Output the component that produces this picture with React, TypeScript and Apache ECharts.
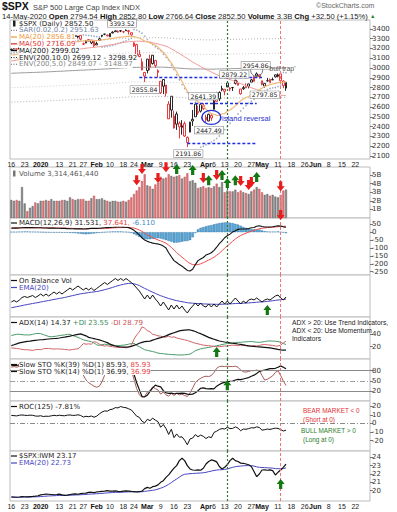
import React, { useEffect, useRef } from "react";
import * as echarts from "echarts";

// ---------- DATA ----------
const prevClose = 3168.8;
const opens = [3183.63,3195.40,3195.21,3192.32,3223.33,3226.05,3225.45,3227.20,3247.23,3240.09,3215.18,
3244.67,3226.36,3217.55,3241.86,3238.59,3266.03,3281.81,3271.13,3285.35,3282.27,3302.97,3323.66,3321.03,3330.02,3315.77,3333.10,3247.16,3255.35,3289.46,3256.45,3282.33,
3235.66,3280.61,3324.91,3344.92,3335.54,3318.28,3365.87,3370.50,3365.90,3378.08,3369.04,3380.39,3380.45,3360.50,3257.61,3238.94,3139.90,3062.54,2916.90,
2974.28,3096.46,3045.75,3075.70,2954.20,2863.89,2813.48,2825.60,2630.86,2569.99,2508.59,2425.66,2436.50,2393.48,2431.94,2290.71,2344.44,2457.77,2501.29,2555.87,2558.98,2614.69,
2498.08,2458.54,2514.92,2578.28,2738.65,2685.00,2776.99,2782.46,2805.10,2795.64,2799.34,2842.43,2845.62,2784.81,2787.89,2810.42,2812.64,2854.65,2909.96,2918.46,2930.91,
2869.09,2815.01,2868.88,2883.14,2878.26,2908.83,2915.46,2939.50,2865.86,2794.54];
const highs = [3197.71,3198.22,3198.48,3205.48,3225.65,3227.78,3226.43,3240.08,3247.93,3240.92,3231.72,
3258.14,3246.15,3246.84,3244.91,3267.07,3275.58,3282.99,3288.13,3294.25,3298.66,3317.11,3329.88,3329.79,3337.77,3326.88,3333.18,3258.85,3285.78,3293.47,3285.91,3282.33,
3268.44,3306.92,3337.58,3347.96,3341.42,3352.26,3375.63,3381.47,3385.09,3380.69,3375.01,3393.52,3389.15,3360.76,3259.81,3246.99,3182.51,3097.07,2959.72,
3090.96,3136.72,3130.97,3083.04,2985.93,2863.89,2882.59,2825.60,2660.95,2711.33,2562.98,2553.93,2453.57,2466.97,2453.01,2300.73,2449.71,2571.42,2637.01,2615.91,2631.80,2641.39,
2522.75,2533.22,2538.18,2676.85,2756.89,2760.75,2818.57,2782.46,2851.85,2801.88,2806.51,2879.22,2868.98,2785.54,2815.10,2844.90,2842.71,2887.72,2921.15,2954.86,2930.91,
2869.09,2844.24,2898.23,2891.11,2901.92,2932.16,2944.25,2945.82,2874.14,2852.80];
const lows = [3183.63,3191.03,3191.14,3192.32,3216.03,3222.30,3220.51,3227.20,3234.37,3216.57,3212.03,
3235.53,3222.34,3214.64,3232.43,3236.67,3263.67,3260.86,3268.43,3277.19,3280.69,3302.82,3318.86,3316.61,3320.04,3301.87,3281.53,3234.50,3253.22,3271.89,3242.80,3214.68,
3235.66,3280.61,3313.75,3334.39,3322.12,3317.77,3352.72,3369.72,3360.52,3366.15,3355.61,3378.83,3341.02,3328.45,3214.65,3118.77,3108.99,2977.39,2855.84,
2945.19,2976.63,3034.38,2999.83,2901.54,2734.43,2734.00,2707.22,2478.86,2492.37,2380.94,2367.04,2280.52,2319.78,2295.56,2191.86,2344.44,2407.53,2500.72,2520.02,2545.28,2571.15,
2447.49,2455.79,2459.96,2574.57,2657.67,2663.30,2762.36,2721.17,2805.10,2761.54,2764.32,2830.88,2820.43,2727.10,2775.95,2794.26,2791.76,2852.89,2860.71,2912.16,2892.47,
2821.61,2797.85,2863.55,2847.65,2876.48,2902.88,2903.44,2869.59,2793.15,2766.64];
const closes = [3191.45,3192.52,3191.14,3205.37,3221.22,3224.01,3223.38,3239.91,3240.02,3221.29,3230.78,
3257.85,3234.85,3246.28,3237.18,3253.05,3274.70,3265.35,3288.13,3283.15,3289.29,3316.81,3329.62,3320.79,3321.75,3325.54,3295.47,3243.63,3276.24,3273.40,3283.66,3225.52,
3248.92,3297.59,3334.69,3345.78,3327.71,3352.09,3357.75,3379.45,3373.94,3380.16,3370.29,3386.15,3373.23,3337.75,3225.89,3128.21,3116.39,2978.76,2954.22,
3090.23,3003.37,3130.12,3023.94,2972.37,2746.56,2882.23,2741.38,2480.64,2711.02,2386.13,2529.19,2398.10,2409.39,2304.92,2237.40,2447.33,2475.56,2630.07,2541.47,2626.65,2584.59,
2470.50,2526.90,2488.65,2663.68,2659.41,2749.98,2789.82,2761.63,2846.06,2783.36,2799.55,2874.56,2823.16,2736.56,2799.31,2797.80,2836.74,2878.48,2863.39,2939.51,2912.43,
2830.71,2842.74,2868.44,2848.42,2881.19,2929.80,2930.32,2870.12,2820.00,2852.50];
const ma20 = [3133,3136,3140,3145,3151,3156,3161,3166,3170,3174,3180,
3188,3194,3201,3205,3211,3218,3224,3230,3236,3241,3247,3254,3260,3265,3270,3274,3274,3276,3278,3281,3279,
3280,3283,3287,3292,3295,3299,3303,3307,3312,3315,3317,3320,3323,3323,3320,3314,3306,3291,3275,
3268,3256,3247,3232,3213,3184,3160,3130,3085,3052,3002,2960,2910,2862,2811,2761,2727,2695,2678,2657,2634,2613,
2580,2555,2531,2527,2516,2516,2532,2534,2557,2570,2590,2613,2639,2664,2682,2698,2708,2725,2737,2755,2777,
2792,2810,2820,2829,2836,2843,2851,2852,2854,2856.81];
const ma50 = [3070,3075,3080,3085,3090,3095,3100,3105,3110,3115,3120,
3124,3129,3134,3139,3144,3149,3153,3158,3163,3168,3172,3177,3182,3186,3190,3194,3198,3202,3205,3208,3211,
3214,3217,3221,3226,3230,3235,3239,3244,3250,3255,3260,3265,3268,3270,3272,3273,3274,3272,3270,
3267,3264,3258,3252,3245,3238,3231,3223,3210,3196,3181,3165,3149,3131,3113,3096,3078,3060,3045,3030,3015,3000,
2986,2972,2958,2945,2932,2919,2910,2900,2891,2881,2872,2861,2850,2840,2829,2818,2808,2798,2788,2779,2769,
2761,2753,2746,2738,2731,2728,2725,2722,2719,2716.09];
const ma200 = [2946,2947,2948,2949,2950,2951,2952,2953,2954,2955,2956,
2957,2958,2959,2961,2962,2963,2965,2966,2967,2969,2970,
2972,2973,2974,2976,2977,2978,2979,2981,2982,2983,
2985,2986,2988,2989,2991,2992,2994,2996,2997,2999,
3001,3002,3004,3005,3006,3006,3007,3007,3007,3008,
3008,3009,3009,3009,3008,3008,3007,3005,3004,3002,
3000,2998,2996,2994,2992,2991,2990,2990,2990,2990,
2989,2988,2988,2988,2988,2989,2990,2990,2991,2992,
2992,2993,2994,2994,2994,2995,2995,2996,2997,2997,
2998,2998,2998,2998,2998,2999,2999,2999,2999,2999,2999,2999.02];
const sar = [3150,3155,3160,3165,3170,3178,3185,3192,3198,3204,3209,3213,3217,3220,3222,3224,3228,3232,3237,3242,3247,3254,3261,3268,3276,3284,3292,
3338,3335,3332,3329,3324,3320,3316,
3214,3217,3221,3225,3232,3240,3250,3259,3268,3277,3290,3302,
3393,3386,3373,3355,3325,3290,3262,3238,3216,3196,3178,3140,3108,3080,3028,2985,2930,2880,2830,2790,2750,2712,2680,2650,2637,
2191,2200,2215,2230,2245,2260,2280,2305,2335,2370,2400,2435,2465,2495,2530,2560,2590,2615,2640,2660,2680,2700,2725,2745,2762,2777,2790,2797,2800,2810,2825,
2954.86,2951.63];
const volumeB = [2.1,2.0,2.1,2.0,3.6,1.7,0.8,1.2,1.4,1.8,1.7,
2.0,2.0,2.1,2.0,2.2,2.0,2.0,2.0,2.1,2.1,2.0,
2.4,2.2,2.1,2.2,2.2,2.2,2.0,2.0,2.3,2.6,
2.2,2.2,2.3,2.1,2.0,1.9,2.0,2.0,1.9,1.9,
2.0,1.9,2.1,2.4,2.8,3.2,3.6,4.3,5.1,3.8,
3.7,3.4,3.9,4.1,4.8,4.6,4.7,5.1,4.9,4.8,
4.9,5.0,4.6,4.8,5.2,4.3,4.4,4.1,3.5,3.6,
3.7,3.5,3.6,3.5,3.7,4.0,3.6,4.2,3.0,3.2,
3.1,3.1,3.3,3.0,3.2,3.0,2.9,2.8,3.1,3.3,
3.6,3.4,3.0,2.7,2.8,2.6,2.7,2.5,2.4,2.7,3.2,3.31];
const macd = [25,26,26,27,28,29,29,29,29,28,28,
28,27,27,26,26,26,25,25,24,24,23,
22,22,21,21,21,20,21,23,25,24,
24,25,27,28,29,30,31,32,33,33,
32,31,29,22,12,-2,-17,-35,-50,-58,
-64,-69,-72,-74,-80,-88,-100,-130,-155,-180,
-192,-205,-215,-228,-242,-246,-235,-205,-180,-170,
-160,-145,-138,-130,-115,-95,-72,-55,-35,-22,
-12,2,10,18,20,20,21,23,28,30,
38,41,36,33,33,33,35,38,41,39,34,31.531];
const macdSignal = [28,28,28,28,28,28,28,28,28,28,28,
28,28,28,27,27,27,27,26,26,26,25,
25,24,24,23,23,22,22,22,23,23,
23,23,24,25,25,26,27,28,29,29,
30,30,30,29,26,21,14,5,-6,-17,
-26,-35,-42,-49,-55,-62,-70,-82,-96,-113,
-129,-144,-158,-172,-186,-198,-205,-207,-205,-200,
-193,-185,-176,-168,-158,-146,-133,-118,-101,-87,
-72,-57,-43,-31,-21,-13,-6,0,6,11,
17,22,25,27,29,30,31,33,35,37,37,37.641];
const macdHist = [2,2,2,3,3,4,4,3,3,2,2,
1,0,-1,-1,-2,-2,-2,-2,-3,-3,-3,
-4,-5,-6,-8,-10,-12,-13,-12,-10,-8,
-6,-4,-2,0,2,3,4,4,4,4,
3,2,0,-5,-12,-20,-30,-38,-44,-45,
-44,-42,-40,-38,-40,-45,-50,-55,-60,-66,
-66,-64,-60,-57,-56,-50,-32,-5,18,28,
33,38,42,45,50,54,58,60,62,62,
60,58,53,48,41,33,27,22,20,18,
18,17,11,6,4,3,3,3,4,1,-2,-6.11];
const obv = [25,26.5,25,27,29.5,30.5,29.5,30.5,31.5,29.5,31,
33,31,33,31,33,35,33,35,33,35,37,
39,37,39,41,39,37,39,37,39,36.5,
38.5,40.5,42.5,44.5,42.5,44.5,46.5,48.5,46.5,48.5,
46.5,48.5,46.5,44.5,42,39,36,32,28,32,
28,32,28,25,21,25,21,17,22,18,
22,18,21,17,14,18,21,24,21,24,
21,20,23,20,23,20,23,26,23,26,
23,26,29,26,23,26,24,27,28,27,
29,27,25,27,28,27,29,31,32,29,27,30];
const obvEma = [19.3,19.8,20.3,20.8,21.4,22,22.5,23,23.5,24,24.4,
25,25.5,26,26.5,27,27.6,28,28.6,29,29.5,30.2,
30.8,31.4,32,32.6,33.2,33.6,34,34.4,34.8,35.1,
35.5,36,36.6,37.3,38,38.8,39.6,40.5,41.3,42,
42.7,43.2,43.6,43.6,43.2,42.5,41.5,40,38.6,37.4,
36,34.8,33.6,32.4,31.3,30.4,29.4,28.5,27.8,27,
26.4,25.8,25.3,24.8,24.3,24,23.8,23.6,23.4,23.3,
23.1,23,22.9,22.8,22.8,22.7,22.7,22.8,22.8,23,
23.1,23.3,23.5,23.6,23.6,23.8,23.9,24.1,24.3,24.5,
24.8,25,25.1,25.3,25.6,25.9,26.2,26.6,27,27.3,27.6,28];
const adx = [21.6,23,24.5,26,27,27.8,28.5,29,29.7,30.3,30.8,
31.2,31.5,32,32.4,32.8,33.2,33.5,34,34.8,35.5,36.3,
37,38,39,40,40.6,39,37.5,35,34,33,
32,31,29.5,28,26.5,24,22.5,21,20,19.5,
19.2,19.2,19.5,20.5,22,23.5,25.5,27,28,28.5,
29,30.5,32,33.5,34.5,36,37.5,39.5,41,42.5,
44,45.5,46.3,46.8,47,47,46,44.5,42.5,41,
39,37,35,33.5,32,30.5,29.2,28.3,27.5,26.8,
26,25.5,25,24.3,23.8,23,22,21.3,20.8,20.3,
19.8,19.5,19.2,18.8,18.4,18,17.3,16.5,15.5,14.8,14.5,14.37];
const plusDI = [38,39,40,40,39.5,39,39,39,40,41,41.5,
41,39.5,38,36.5,36,36.5,37,38,38.5,39,40,
40,38,36.5,35,33,31,30,29,28,26,
23,22,23,24,23.5,22.5,22,22,21.5,22,
22.5,23,24,25,25.5,22,20,17.5,15,14,
13,12,11,9.5,9,8.5,8,7.6,7.2,7,
6.7,6.5,6.5,6.8,7.2,8,10.5,13.5,15,16.5,
17.4,18,18.8,19.5,20.5,21.5,22.3,23.5,24.2,25,
25.5,26,26.5,27,27,27.5,27.8,28.2,28.3,27.8,
27.2,27,27.5,28.3,29,29.3,29,28.8,28.3,27,25,23.55];
const minusDI = [18,17.5,17,16.5,15.5,15,15,14.5,14,15,15.5,
15,16.5,17,17,16.5,16,16.5,16,16,15.5,15,
14.5,15.5,16,16.5,20,25,24,24.5,24,28,
27,24,22,21,21.5,20.5,20,19,19,18.5,
19,18,19,22,32,39,44,52,50,46,
44,40,39,37.5,37,35,35.5,37,35,36,
34,33,32,31,30,28.5,27,25.5,24.5,23.5,
22.5,22,21.5,21,20.5,20,20,20.5,21,21,
22,22.5,22,21.5,22.5,22,21.5,21,21,21.5,
21,22,23,23.5,23,22.5,22,21,21,22.5,26,28.79];
const stoK39 = [95,96,95,97,98,98,98,99,98,94,96,
99,94,96,94,96,98,96,99,97,98,99,
99,98,98,97,92,84,86,85,86,76,
80,87,93,95,92,96,96,98,97,98,
96,98,95,88,70,45,25,5,4,9,
20,30,38,35,33,22,16,14,15,13,
14,14,15,14,12,11,12,16,22,29,
30,28,27,28,27,35,40,44,46,48,
49,50,53,55,54,56,58,60,64,67,
72,78,80,82,84,86,86,87,90,94,90,85.93];
const stoK14 = [90,92,90,93,96,97,97,98,97,88,90,
96,85,88,84,90,95,92,97,94,95,98,
98,96,95,94,85,67,53,45,40,35,
32,35,48,67,80,88,92,95,94,96,
93,97,92,82,55,28,10,3,5,18,
22,33,28,24,12,18,10,6,14,8,
14,10,12,8,5,15,30,45,53,58,
62,64,63,66,75,87,92,93,92,93,
92,92,93,90,82,77,76,78,80,80,
82,80,66,53,55,60,65,75,80,66,50,36.99];
const roc = [9.3,9.0,8.7,9.5,9.8,9.4,9.2,9.6,9.4,8.6,8.4,
8.9,8.0,8.4,8.2,8.8,9.4,8.9,9.5,9.0,8.9,9.6,
9.8,9.3,9.4,10.0,9.2,7.4,8.3,7.8,8.6,7.2,
8.4,11.0,13.2,14.5,14.2,16.0,16.6,18.3,18.0,19.6,
18.6,18.2,17.0,15.6,12.0,8.4,7.0,2.5,0.7,4.8,
3.2,6.0,3.8,2.0,-4.5,-1.2,-6.0,-12.8,-6.8,-16.5,
-12.2,-16.0,-15.5,-19.5,-24.8,-18.0,-17.0,-13.0,-15.5,-13.5,
-15.0,-17.5,-15.5,-16.5,-10.5,-9.0,-7.0,-6.0,-6.5,-4.5,
-6.0,-5.8,-4.0,-5.5,-8.5,-6.5,-6.8,-6.0,-5.0,-5.3,
-4.0,-4.8,-7.8,-7.3,-6.5,-7.0,-6.2,-5.5,-5.8,-7.2,-8.8,-7.81];
const spxIwm = [19.28,19.25,19.22,19.25,19.3,19.28,19.26,19.3,19.32,19.35,19.4,
19.5,19.55,19.6,19.58,19.55,19.52,19.55,19.6,19.5,19.45,19.48,
19.55,19.6,19.62,19.58,19.65,19.7,19.72,19.8,19.82,19.78,
19.85,19.88,19.92,19.95,20.0,19.96,19.94,19.98,19.92,19.9,
19.95,19.98,19.96,19.92,19.9,19.85,19.88,19.95,20.25,20.4,
20.3,20.48,20.55,20.7,21.0,21.2,21.6,21.9,22.3,22.7,
23.0,23.6,23.88,23.6,23.0,22.6,22.48,22.45,22.5,22.45,
22.68,23.2,23.5,23.68,23.6,23.45,22.9,22.6,22.8,23.1,
23.6,23.88,23.6,23.5,23.3,23.28,23.2,23.1,22.9,22.3,
21.68,22.0,22.48,22.5,22.45,22.5,22.4,21.88,22.2,22.48,22.8,23.17];
const spxIwmEma = [19.2,19.21,19.22,19.22,19.23,19.24,19.24,19.25,19.26,19.27,19.28,
19.3,19.32,19.35,19.37,19.39,19.4,19.42,19.43,19.44,19.45,19.45,
19.46,19.47,19.49,19.5,19.52,19.54,19.56,19.58,19.6,19.62,
19.64,19.66,19.68,19.71,19.74,19.76,19.78,19.8,19.81,19.82,
19.83,19.85,19.86,19.87,19.87,19.87,19.87,19.88,19.92,19.97,
20.0,20.05,20.1,20.2,20.3,20.42,20.58,20.76,20.97,21.2,
21.4,21.63,21.84,21.96,22.0,22.04,22.06,22.08,22.1,22.12,
22.15,22.2,22.28,22.35,22.42,22.47,22.5,22.52,22.55,22.6,
22.7,22.8,22.87,22.92,22.95,22.98,23.0,23.0,23.0,22.95,
22.85,22.8,22.78,22.76,22.74,22.72,22.7,22.65,22.63,22.62,22.65,22.73];

// tick labels
const priceTicks = [2100,2200,2300,2400,2500,2600,2700,2800,2900,3000,3100,3200,3300,3400];
const volTicks = [1,2,3,4,5];
const macdTicks = [50,0,-50,-100,-150,-200,-250];
const adxTicks = [20,40];
const stoTicks = [20,50,80];
const rocTicks = [-20,-10,0,10,20];
const ratioTicks = [20,21,22,23,24];
const xTicks: [string, string, boolean][] = [
  ["2019-12-16","16",false],["2019-12-23","23",false],["2020-01-02","2020",true],["2020-01-13","13",false],
  ["2020-01-21","21",false],["2020-01-27","27",false],["2020-02-03","Feb",true],["2020-02-10","10",false],
  ["2020-02-18","18",false],["2020-02-24","24",false],["2020-03-02","Mar",true],["2020-03-09","9",false],
  ["2020-03-16","16",false],["2020-03-23","23",false],["2020-04-01","Apr",true],["2020-04-06","6",false],
  ["2020-04-13","13",false],["2020-04-20","20",false],["2020-04-27","27",false],["2020-05-01","May",true],
  ["2020-05-11","11",false],["2020-05-18","18",false],["2020-05-26","26",false],["2020-06-01","Jun",true],
  ["2020-06-08","8",false],["2020-06-15","15",false],["2020-06-22","22",false]];
const holidays = ["2019-12-25","2020-01-01","2020-01-20","2020-02-17","2020-04-10","2020-05-25"];

// annotations (date index, value)
const priceNotes: [number, number][] = [[43,3393.52],[50,2855.84],[66,2191.86],[72,2641.39],[73,2447.49],[84,2879.22],[92,2954.86],[95,2797.85]];
const supportLines: [number, number, number][] = [[48,94,2910],[67,92,2641],[66,92,2233]];
const volArrows: [number, number, string][] = [
  [49,5.7,"d"],[47,4.4,"d"],[55,4.66,"d"],[58,5.9,"d"],[66,6.0,"d"],[72,4.66,"d"],[77,5.0,"d"],
  [86,4.3,"d"],[89,3.85,"d"],[90,4.2,"d"],[101,3.7,"d"],[101,0.35,"d"],
  [62,5.7,"u"],[68,5.6,"u"],[74,4.4,"u"],[79,5.0,"u"],[81,4.07,"u"],[84,4.4,"u"],[92,4.77,"u"]];
const greenLineIdx = 81;
const redLineIdx = 101;

function tradingDays(): string[] {
  const out: string[] = [];
  let t = Date.UTC(2019, 11, 16);
  const end = Date.UTC(2020, 5, 29);
  while (t <= end) {
    const d = new Date(t);
    const wd = d.getUTCDay();
    const s = d.toISOString().slice(0, 10);
    if (wd !== 0 && wd !== 6 && holidays.indexOf(s) < 0) out.push(s);
    t += 86400000;
  }
  return out;
}

const UP = "path://M5,0L10,5L7,5L7,10L3,10L3,5L0,5Z";
const DOWN = "path://M3,0L7,0L7,5L10,5L5,10L0,5L3,5Z";
const ELLIPSE = "path://M0,5A5,5 0 1,1 10,5A5,5 0 1,1 0,5Z";
const RED = "#e5262b";
const FONT = "DejaVu Sans";
const LS = "Liberation Sans";

function buildOption() {
  const dates = tradingDays();
  const tickMap: Record<string, [string, boolean]> = {};
  xTicks.forEach(([d, l, b]) => (tickMap[d] = [l, b]));

  const panels = [
    { top: 20, height: 139 },
    { top: 167, height: 51 },
    { top: 218, height: 57 },
    { top: 275, height: 42 },
    { top: 317, height: 42 },
    { top: 359, height: 42 },
    { top: 401, height: 50 },
    { top: 451, height: 50 },
  ];
  const yRanges = [[2070, 3490], [0, 5.94], [-271, 90], [10, 52], [0, 68], [-8, 114], [-32, 26], [18.77, 24.75]];
  const yTicks: any[] = [priceTicks, volTicks, macdTicks, null, adxTicks, stoTicks, rocTicks, ratioTicks];

  const grid = panels.map((p) => ({ left: 10, width: 360, top: p.top, height: p.height, show: true, borderColor: "#bcbcbc", borderWidth: 1, backgroundColor: "#fff" }));
  const xAxis = panels.map((p, gi) => ({
    type: "category", gridIndex: gi, data: dates, boundaryGap: true,
    axisLine: { show: false }, axisTick: { show: false }, splitLine: { show: false },
    axisLabel: gi === 0 || gi === 7 ? {
      show: true, margin: 2, fontSize: 7, color: "#222", fontFamily: LS,
      interval: (_i: number, v: string) => !!tickMap[v],
      formatter: (v: string) => (tickMap[v] ? (tickMap[v][1] ? "{b|" + tickMap[v][0] + "}" : tickMap[v][0]) : ""),
      rich: { b: { fontWeight: "bold", fontSize: 7, fontFamily: LS, color: "#111" } },
    } : { show: false },
  }));
  const yAxis = panels.map((p, gi) => ({
    type: "value", gridIndex: gi, position: "right", min: yRanges[gi][0], max: yRanges[gi][1], scale: true,
    axisLine: { show: false }, splitLine: { show: false },
    axisTick: yTicks[gi] ? { show: true, customValues: yTicks[gi], length: 3, inside: false, lineStyle: { color: "#555", width: 0.8 } } : { show: false },
    axisLabel: yTicks[gi] ? { show: true, customValues: yTicks[gi], fontSize: 7, color: "#333", margin: 2, fontFamily: FONT,
      formatter: gi === 1 ? (v: number) => v + "B" : (v: number) => String(v) } : { show: false },
  }));

  const vLineData = [
    { xAxis: dates[greenLineIdx], lineStyle: { color: "#2b7a2b", type: [2, 2], width: 1.2 } },
    { xAxis: dates[redLineIdx], lineStyle: { color: "#f07474", type: [3, 2], width: 1 } },
  ];
  const vMark = (extra: any[] = []) => ({ silent: true, symbol: "none", animation: false, label: { show: false }, data: [...vLineData, ...extra] });
  const arrow = (i: number, v: number, dir: string) => ({
    coord: [dates[i], v], symbol: dir === "u" ? UP : DOWN, symbolSize: [8, 10],
    itemStyle: { color: dir === "u" ? "#127812" : "#e81c1c" }, label: { show: false },
  });
  const line = (data: number[], gi: number, color: string, width = 1, extra: any = {}) => ({
    type: "line", data, xAxisIndex: gi, yAxisIndex: gi, symbol: "none", silent: true, animation: false,
    lineStyle: { color, width }, itemStyle: { color }, ...extra,
  });

  const candles = opens.map((o, i) => {
    const prev = i === 0 ? prevClose : closes[i - 1];
    const col = closes[i] < prev ? RED : "#111";
    return { value: [o, closes[i], lows[i], highs[i]], itemStyle: { color: "#fff", color0: col, borderColor: col, borderColor0: col } };
  });
  const vols = volumeB.map((v, i) => {
    const prev = i === 0 ? prevClose : closes[i - 1];
    const down = closes[i] < prev;
    return { value: v, itemStyle: { color: down ? "#de7a7d" : "#8a8a8a", borderColor: down ? "#b5373b" : "#555", borderWidth: 0.4 } };
  });

  const noteOffsets = [[-4, -6], [0, 7.5], [1, 6.5], [0, -7], [3, 8], [-1, -5.5], [-1, -7], [0, 7]];
  const priceMarks: any[] = priceNotes.map(([i, v], k) => ({
    coord: [dates[i], v], symbol: "rect", symbolSize: 1, itemStyle: { color: "rgba(0,0,0,0)" },
    label: { show: true, formatter: v.toFixed(2), position: "inside", offset: noteOffsets[k], fontSize: 6.2, fontFamily: FONT, color: "#222",
      backgroundColor: "#fff", borderColor: "#8a8a8a", borderWidth: 0.6, padding: [1, 1.5, 0, 1.5] },
  }));
  priceMarks.push({ coord: [dates[75], 2495], symbol: ELLIPSE, symbolSize: [19, 14], itemStyle: { color: "rgba(0,0,0,0)", borderColor: "#2030d8", borderWidth: 1.4 }, label: { show: false } });
  priceMarks.push({ coord: [dates[92], 2975], symbol: ELLIPSE, symbolSize: [12, 12], itemStyle: { color: "rgba(0,0,0,0)", borderColor: "#777", borderWidth: 1 }, label: { show: false } });

  const envStyle = (c: string) => ({ lineStyle: { color: c, width: 0.8, type: [1, 2] } });

  const series: any[] = [
    line(ma200.map((v) => v * 1.1), 0, "#9a9a9a", 0.8, envStyle("#9a9a9a")),
    line(ma200.map((v) => v * 0.9), 0, "#9a9a9a", 0.8, envStyle("#9a9a9a")),
    line(ma200.map((v) => v * 1.05), 0, "#c0c0c0", 0.8, envStyle("#c0c0c0")),
    line(ma200.map((v) => v * 0.95), 0, "#c0c0c0", 0.8, envStyle("#c0c0c0")),
    line(ma200, 0, "#909090", 0.9),
    line(ma50, 0, "#f09a9a", 1),
    line(ma20, 0, "#f2b877", 1.2),
    { type: "scatter", data: sar, xAxisIndex: 0, yAxisIndex: 0, symbolSize: 1.6, itemStyle: { color: "#8797b5" }, silent: true, animation: false },
    {
      type: "candlestick", data: candles, xAxisIndex: 0, yAxisIndex: 0, barWidth: 2, silent: true, animation: false,
      itemStyle: { borderWidth: 0.9 },
      markLine: vMark(supportLines.map(([a, b, p]) => [
        { coord: [dates[a], p], lineStyle: { color: "#1d2fe0", type: [3, 2], width: 1.3 } },
        { coord: [dates[b], p] },
      ])),
      markPoint: { silent: true, animation: false, data: priceMarks },
    },
    {
      type: "bar", data: vols, xAxisIndex: 1, yAxisIndex: 1, barWidth: 2, silent: true, animation: false,
      markLine: vMark(), markPoint: { silent: true, animation: false, data: volArrows.map(([i, v, d]) => arrow(i, v, d)) },
    },
    { type: "bar", data: macdHist, xAxisIndex: 2, yAxisIndex: 2, barWidth: 2.4, silent: true, animation: false,
      itemStyle: { color: "#5aa9dc", borderColor: "#2a6e9e", borderWidth: 0.4 }, markLine: vMark() },
    line(macdSignal, 2, "#f05050", 1),
    line(macd, 2, "#111", 1.1),
    line(obvEma, 3, "#4646c0", 1),
    line(obv, 3, "#111", 1, { markLine: vMark(), markPoint: { silent: true, animation: false, data: [arrow(96, 17, "u")] } }),
    line(plusDI, 4, "#4a9a6c", 1),
    line(minusDI, 4, "#d06468", 1),
    line(adx, 4, "#111", 1.2, { markLine: vMark(), markPoint: { silent: true, animation: false, data: [arrow(77, 11.4, "u")] } }),
    line(stoK14, 5, "#a85a5a", 1),
    line(stoK39, 5, "#111", 1.2, {
      markLine: vMark([
        { yAxis: 80, lineStyle: { color: "#8a8a8a", type: "solid", width: 1 } },
        { yAxis: 20, lineStyle: { color: "#8a8a8a", type: "solid", width: 1 } },
        { yAxis: 50, lineStyle: { color: "#a0a0a0", type: [5, 2, 1, 2], width: 1 } },
      ]),
      markPoint: { silent: true, animation: false, data: [arrow(81, 38, "u")] },
    }),
    line(roc, 6, "#111", 1, { markLine: vMark([{ yAxis: 0, lineStyle: { color: "#8a8a8a", type: [5, 2, 1, 2], width: 1 } }]) }),
    line(spxIwmEma, 7, "#4646c0", 1),
    line(spxIwm, 7, "#111", 1.2, { markLine: vMark(), markPoint: { silent: true, animation: false, data: [arrow(101, 20.8, "u")] } }),
  ];

  // ---------- texts ----------
  const T = (x: number, y: number, text: string, st: any = {}) => ({
    type: "text", x, y, z: 100, silent: true,
    style: { text, fontSize: 7, fontFamily: FONT, fill: "#222", verticalAlign: "middle", backgroundColor: "#fff", ...st },
  });
  const L = (x1: number, y: number, color: string, dash: any = null, w = 1.2) => ({
    type: "line", z: 101, silent: true, shape: { x1, y1: y, x2: x1 + 6, y2: y },
    style: { stroke: color, lineWidth: w, lineDash: dash },
  });
  const R = (x: number, y: number, w: number, h: number, color: string) => ({ type: "rect", z: 101, silent: true, shape: { x, y, width: w, height: h }, style: { fill: color } });

  const graphic: any[] = [
    T(2, 6.3, "$SPX", { fontSize: 10.5, fontWeight: "bold", fontFamily: LS, fill: "#111", backgroundColor: null }),
    T(33, 7, "S&P 500 Large Cap Index INDX", { fontSize: 7.5, fontFamily: LS, fill: "#444", backgroundColor: null }),
    T(316, 5.5, "©StockCharts.com", { fontSize: 7, fontFamily: LS, fill: "#666", backgroundColor: null }),
    T(2, 16.2, "{n|14-May-2020 }{b|Open}{n| 2794.54 }{b|High}{n| 2852.80 }{b|Low}{n| 2766.64 }{b|Close}{n| 2852.50 }{b|Volume}{n| 3.3B }{b|Chg}{n| +32.50 (+1.15%) }{g|▲}", {
      fontSize: 7.6, fontFamily: LS, backgroundColor: null,
      rich: { n: { fontSize: 7.6, fontFamily: LS, fill: "#222" }, b: { fontSize: 7.6, fontFamily: LS, fontWeight: "bold", fill: "#111" }, g: { fontSize: 5.5, fill: "#1a8a1a" } },
    }),
    // price legend
    T(19, 23.5, "$SPX (Daily) 2852.50", { fill: "#222" }),
    R(13, 20.5, 2.5, 6, "#222"),
    T(19, 30.3, "SAR(0.02,0.2) 2951.63", { fill: "#7585a5" }),
    L(11, 30.3, "#7585a5", [1, 1.5], 1.2),
    T(19, 37, "MA(20) 2856.81", { fill: "#eb9a3c" }),
    L(11, 37, "#eb9a3c"),
    T(19, 43.8, "MA(50) 2716.09", { fill: "#dd3030" }),
    L(11, 43.8, "#dd3030"),
    T(19, 50.6, "MA(200) 2999.02", { fill: "#111" }),
    L(11, 50.6, "#111"),
    T(19, 57.5, "ENV(200,10.0) 2699.12 - 3298.92", { fill: "#222" }),
    L(11, 57.5, "#222", [1, 1.5]),
    T(19, 64.4, "ENV(200,5.0) 2849.07 - 3148.97", { fill: "#888" }),
    L(11, 64.4, "#888", [1, 1.5]),
    // annotations in price panel
    T(222, 118.5, "island reversal", { fontSize: 7.5, fontFamily: LS, fill: "#2a34d4", backgroundColor: null }),
    T(268, 68, "'bull trap'", { fontSize: 7, fontFamily: LS, fill: "#555", backgroundColor: null }),
    // volume
    T(19, 173.5, "Volume 3,314,461,440", { fill: "#555" }),
    R(13, 170.5, 2.5, 6, "#777"),
    // macd
    T(19, 223, "{a|MACD(12,26,9) 31.531, }{r|37.641, }{b|-6.110}", { rich: { a: { fill: "#222", fontSize: 7, fontFamily: FONT }, r: { fill: "#e84040", fontSize: 7, fontFamily: FONT }, b: { fill: "#4a8ac0", fontSize: 7, fontFamily: FONT } } }),
    L(11, 223, "#111"),
    // obv
    T(19, 280.5, "On Balance Vol", { fill: "#222" }),
    L(11, 280.5, "#111"),
    T(19, 287.5, "EMA(20)", { fill: "#4646c0" }),
    L(11, 287.5, "#4646c0"),
    // adx
    T(19, 322.5, "{a|ADX(14) 14.37 }{g|+DI 23.55 }{r|-DI 28.79}", { rich: { a: { fill: "#222", fontSize: 7, fontFamily: FONT }, g: { fill: "#3a8a5c", fontSize: 7, fontFamily: FONT }, r: { fill: "#c85458", fontSize: 7, fontFamily: FONT } } }),
    L(11, 322.5, "#111"),
    T(292, 322.5, "ADX > 20: Use Trend Indicators,", { fontSize: 6.7, fontFamily: LS, fill: "#222", backgroundColor: null }),
    T(292, 330.3, "ADX < 20: Use Momentum", { fontSize: 6.7, fontFamily: LS, fill: "#222", backgroundColor: null }),
    T(292, 338.3, "Indicators", { fontSize: 6.7, fontFamily: LS, fill: "#222", backgroundColor: null }),
    // sto
    T(19, 364.5, "{a|Slow STO %K(39) %D(1) 85.93, }{r|85.93}", { rich: { a: { fill: "#222", fontSize: 7, fontFamily: FONT }, r: { fill: "#e84040", fontSize: 7, fontFamily: FONT } } }),
    L(11, 364.5, "#111"),
    T(19, 371.5, "{a|Slow STO %K(14) %D(1) 36.99, }{r|36.99}", { rich: { a: { fill: "#222", fontSize: 7, fontFamily: FONT }, r: { fill: "#e84040", fontSize: 7, fontFamily: FONT } } }),
    L(11, 371.5, "#111"),
    // roc
    T(19, 406.5, "ROC(125) -7.81%", { fill: "#222" }),
    L(11, 406.5, "#111"),
    T(303, 410, "BEAR MARKET < 0", { fontSize: 6.4, fontFamily: LS, fill: "#e23030", backgroundColor: null }),
    T(303, 419, "(Short at 0)", { fontSize: 6.4, fontFamily: LS, fill: "#e23030", backgroundColor: null }),
    T(301, 430, "BULL MARKET > 0", { fontSize: 6.4, fontFamily: LS, fill: "#2a7d2a", backgroundColor: null }),
    T(303, 439, "(Long at 0)", { fontSize: 6.4, fontFamily: LS, fill: "#2a7d2a", backgroundColor: null }),
    // ratio
    T(19, 456, "$SPX:IWM 23.17", { fill: "#222" }),
    L(11, 456, "#111"),
    T(19, 463, "EMA(20) 22.73", { fill: "#4646c0" }),
    L(11, 463, "#4646c0"),
  ];

  return { animation: false, backgroundColor: "#fff", grid, xAxis, yAxis, series, graphic };
}

export default function App() {
  const ref = useRef<HTMLDivElement>(null);
  useEffect(() => {
    const chart = echarts.init(ref.current as HTMLDivElement, null, { renderer: "svg" });
    chart.setOption(buildOption() as any);
    return () => chart.dispose();
  }, []);
  return <div ref={ref} style={{ position: "fixed", left: 0, top: 0, width: 397, height: 512, background: "#fff" }} />;
}
